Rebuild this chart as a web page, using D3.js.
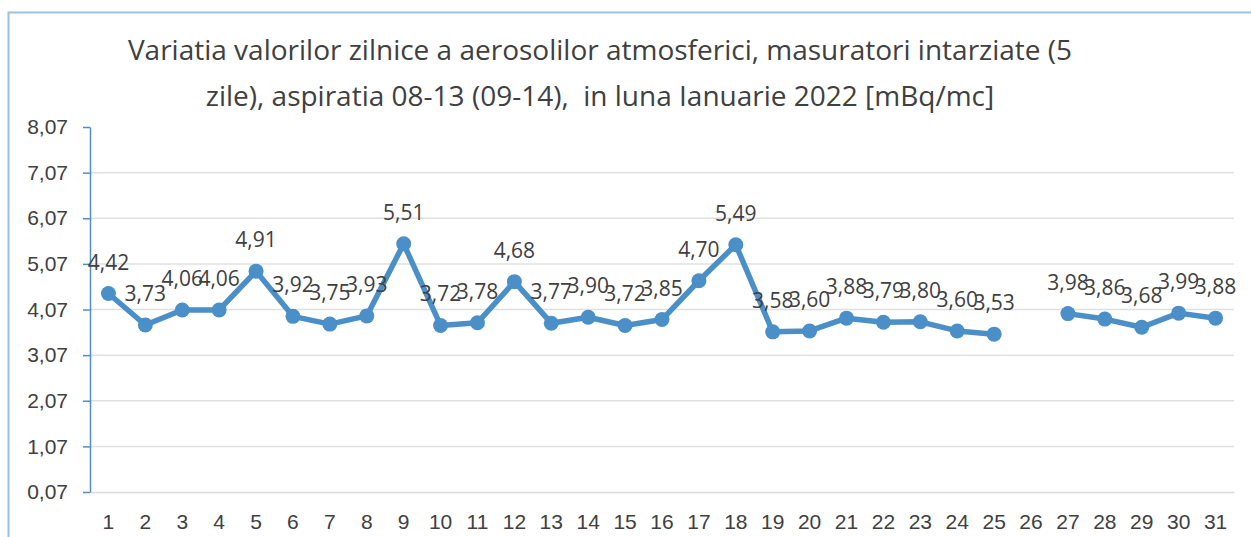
<!DOCTYPE html>
<html>
<head>
<meta charset="utf-8">
<script src="https://cdn.jsdelivr.net/npm/d3@7"></script>
<style>
  body { margin: 0; background: #fff; }
  svg text { fill: #404040; }
</style>
</head>
<body>
<div id="chart"></div>
<script>
// Data
var days = d3.range(1, 32);
var values = [4.42, 3.73, 4.06, 4.06, 4.91, 3.92, 3.75, 3.93, 5.51, 3.72,
              3.78, 4.68, 3.77, 3.90, 3.72, 3.85, 4.70, 5.49, 3.58, 3.60,
              3.88, 3.79, 3.80, 3.60, 3.53, null, 3.98, 3.86, 3.68, 3.99, 3.88];
var yTicks = [0.07, 1.07, 2.07, 3.07, 4.07, 5.07, 6.07, 7.07, 8.07];
var titleLines = [
    "Variatia valorilor zilnice a aerosolilor atmosferici, masuratori intarziate (5",
    "zile), aspiratia 08-13 (09-14),  in luna Ianuarie 2022 [mBq/mc]"
];

var fullWidth = 1251, fullHeight = 537;
var plot = { left: 90, right: 1234, top: 127, bottom: 492 };
var lineColor = "#4a8fc7";
var fmt = function(v) { return v.toFixed(2).replace(".", ","); };

var svg = d3.select("#chart").append("svg")
    .attr("width", fullWidth)
    .attr("height", fullHeight)
    .style("font-family", "'Open Sans', sans-serif");

// Chart frame (light blue border)
svg.append("rect")
    .attr("x", 8.5).attr("y", 12.5)
    .attr("width", 1300).attr("height", 600)
    .attr("fill", "none")
    .attr("stroke", "#9cc0e2")
    .attr("stroke-width", 2);

// Scales
var x = d3.scaleBand().domain(days).range([plot.left, plot.right]);
var y = d3.scaleLinear().domain([0.07, 8.07]).range([plot.bottom, plot.top]);
var cx = function(d) { return x(d) + x.bandwidth() / 2; };

// Gridlines
svg.append("g")
    .selectAll("line")
    .data(yTicks.slice(1, -1))
    .enter().append("line")
    .attr("x1", plot.left).attr("x2", plot.right)
    .attr("y1", function(d) { return y(d); })
    .attr("y2", function(d) { return y(d); })
    .attr("stroke", "#e0e0e0")
    .attr("stroke-width", 1.5);

// X axis
var xAxis = svg.append("g")
    .attr("transform", "translate(0," + plot.bottom + ")")
    .call(d3.axisBottom(x).tickSize(0).tickPadding(22));
xAxis.select(".domain").attr("stroke", "#d9d9d9").attr("stroke-width", 1.5);
xAxis.selectAll("text")
    .style("font-size", "21px")
    .attr("fill", "#404040");

// Y axis
var yAxis = svg.append("g")
    .attr("transform", "translate(" + plot.left + ",0)")
    .call(d3.axisLeft(y).tickValues(yTicks).tickFormat(fmt).tickSize(7).tickSizeOuter(0).tickPadding(15));
yAxis.select(".domain").attr("stroke", "#4f8fc5").attr("stroke-width", 1.5);
yAxis.selectAll(".tick line").attr("stroke", "#4f8fc5").attr("stroke-width", 1.5);
yAxis.selectAll("text")
    .style("font-size", "21px")
    .attr("fill", "#404040");

// Series line (broken where data is missing)
var points = days.map(function(d, i) { return { day: d, value: values[i] }; });
var valueline = d3.line()
    .defined(function(d) { return d.value !== null; })
    .x(function(d) { return cx(d.day); })
    .y(function(d) { return y(d.value); });

svg.append("path")
    .datum(points)
    .attr("fill", "none")
    .attr("stroke", lineColor)
    .attr("stroke-width", 5.5)
    .attr("stroke-linejoin", "round")
    .attr("d", valueline);

var valid = points.filter(function(d) { return d.value !== null; });

svg.append("g")
    .selectAll("circle")
    .data(valid)
    .enter().append("circle")
    .attr("cx", function(d) { return cx(d.day); })
    .attr("cy", function(d) { return y(d.value); })
    .attr("r", 7.5)
    .attr("fill", lineColor);

// Data labels above the points
svg.append("g")
    .selectAll("text")
    .data(valid)
    .enter().append("text")
    .attr("x", function(d) { return cx(d.day); })
    .attr("y", function(d) { return y(d.value) - 24; })
    .attr("text-anchor", "middle")
    .style("font-size", "21px")
    .text(function(d) { return fmt(d.value); });

// Title
svg.append("g")
    .selectAll("text")
    .data(titleLines)
    .enter().append("text")
    .attr("x", 600)
    .attr("y", function(d, i) { return 60 + i * 46; })
    .attr("text-anchor", "middle")
    .style("white-space", "pre")
    .style("font-size", "28px")
    .attr("fill", "#222")
    .text(function(d) { return d; });
</script>
</body>
</html>
